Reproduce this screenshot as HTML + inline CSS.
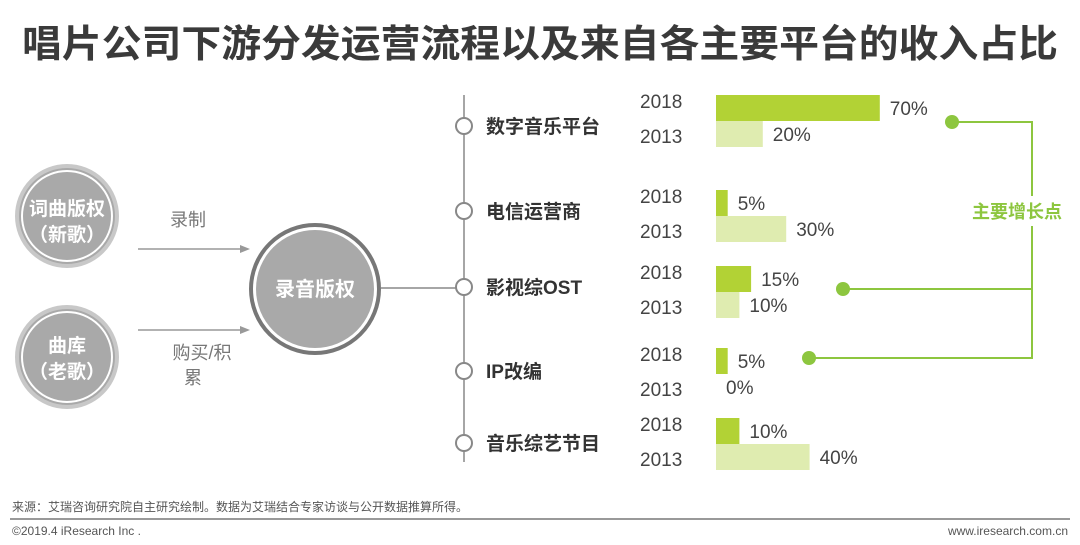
<!DOCTYPE html>
<html><head><meta charset="utf-8">
<style>
html,body{margin:0;padding:0;background:#fff;}
svg{display:block;font-family:"Liberation Sans","Noto Sans CJK SC",sans-serif;}
</style></head>
<body>
<svg id="c" width="1080" height="545" viewBox="0 0 1080 545" xmlns="http://www.w3.org/2000/svg">
<text x="22" y="57" font-size="38" font-weight="bold" fill="#3a3a3a" textLength="1036" lengthAdjust="spacingAndGlyphs">唱片公司下游分发运营流程以及来自各主要平台的收入占比</text>

<g>
  <circle cx="67" cy="216" r="50" fill="#a9a9a9" stroke="#c8c8c8" stroke-width="4"/>
  <circle cx="67" cy="216" r="45" fill="#a9a9a9" stroke="#fff" stroke-width="2"/>
  <text x="67" y="215" text-anchor="middle" font-size="19" font-weight="bold" fill="#fff">词曲版权</text>
  <text x="67" y="241" text-anchor="middle" font-size="19" font-weight="bold" fill="#fff">（新歌）</text>
  <circle cx="67" cy="357" r="50" fill="#a9a9a9" stroke="#c8c8c8" stroke-width="4"/>
  <circle cx="67" cy="357" r="45" fill="#a9a9a9" stroke="#fff" stroke-width="2"/>
  <text x="67" y="352" text-anchor="middle" font-size="19" font-weight="bold" fill="#fff">曲库</text>
  <text x="67" y="378" text-anchor="middle" font-size="19" font-weight="bold" fill="#fff">（老歌）</text>
  <line x1="138" y1="249" x2="242" y2="249" stroke="#999" stroke-width="1.5"/>
  <polygon points="250,249 240,245 240,253" fill="#999"/>
  <line x1="138" y1="330" x2="242" y2="330" stroke="#999" stroke-width="1.5"/>
  <polygon points="250,330 240,326 240,334" fill="#999"/>
  <text x="188" y="226" text-anchor="middle" font-size="18" fill="#777">录制</text>
  <text x="202" y="359" text-anchor="middle" font-size="18" fill="#777">购买/积</text>
  <text x="193" y="384" text-anchor="middle" font-size="18" fill="#777">累</text>
  <circle cx="315" cy="289" r="64" fill="#fff" stroke="#777" stroke-width="4"/>
  <circle cx="315" cy="289" r="59" fill="#a9a9a9"/>
  <text x="315" y="296" text-anchor="middle" font-size="20" font-weight="bold" fill="#fff">录音版权</text>
  <line x1="381" y1="288" x2="456" y2="288" stroke="#888" stroke-width="1.5"/>
  <line x1="464" y1="95" x2="464" y2="462" stroke="#888" stroke-width="1.5"/>
</g>
<g id="cats"></g>
<g id="bars"></g>
<g stroke="#8dc63f" stroke-width="2" fill="none">
  <polyline points="952,122 1032,122 1032,358 809,358"/>
  <line x1="843" y1="289" x2="1032" y2="289"/>
</g>
<g fill="#8dc63f">
  <circle cx="952" cy="122" r="7"/><circle cx="843" cy="289" r="7"/><circle cx="809" cy="358" r="7"/>
</g>
<rect x="965" y="196" width="104" height="30" fill="#fff"/>
<text x="1017" y="218" text-anchor="middle" font-size="18" font-weight="bold" fill="#8dc63f">主要增长点</text>

<text x="12" y="511" font-size="12" fill="#555">来源：艾瑞咨询研究院自主研究绘制。数据为艾瑞结合专家访谈与公开数据推算所得。</text>
<line x1="10" y1="519" x2="1070" y2="519" stroke="#999" stroke-width="2"/>
<text x="12" y="535" font-size="12" fill="#555">©2019.4 iResearch Inc .</text>
<text x="1068" y="535" text-anchor="end" font-size="12" fill="#555">www.iresearch.com.cn</text>
</svg>
<script>
const categories = ["数字音乐平台","电信运营商","影视综OST","IP改编","音乐综艺节目"];
const values2018 = [70,5,15,5,10];
const values2013 = [20,30,10,0,40];
const yearLabels = ["2018","2013"];

const NS="http://www.w3.org/2000/svg";
const x0=716, pxPer=2.34;
const groupMid=[121,216,292,374,444];
const nodeY=[126,211,287,371,443];
function xs(v){return x0+v*pxPer;}
function mk(tag,attrs,parent){const e=document.createElementNS(NS,tag);for(const k in attrs)e.setAttribute(k,attrs[k]);parent.appendChild(e);return e;}
const cats=document.getElementById('cats'), bars=document.getElementById('bars');
categories.forEach((c,i)=>{
  const cy=nodeY[i];
  const dot=mk('circle',{cx:464,cy:cy,r:8,fill:'#fff',stroke:'#888','stroke-width':2},cats);
  
  
  const t=mk('text',{x:486,y:cy+7,'font-size':19,'font-weight':'bold',fill:'#333'},cats);
  t.textContent=c;
  
  
  const m=groupMid[i];
  [[values2018[i],m-26,'#b2d235',yearLabels[0],m-20],[values2013[i],m,'#dfecb0',yearLabels[1],m+15]].forEach(([v,y,col,yr,ly])=>{
    if(v>0){
      const r=mk('rect',{x:x0,y:y,width:xs(v)-x0,height:26,fill:col},bars);
      
      
    }
    const yl=mk('text',{x:640,y:ly+7,'font-size':19,fill:'#444'},bars);
    yl.textContent=yr;
    
    
    const vl=mk('text',{x:xs(v)+10,y:y+20,'font-size':19,fill:'#444'},bars);
    vl.textContent=v+'%';
    
    
  });
});
</script>
</body></html>
